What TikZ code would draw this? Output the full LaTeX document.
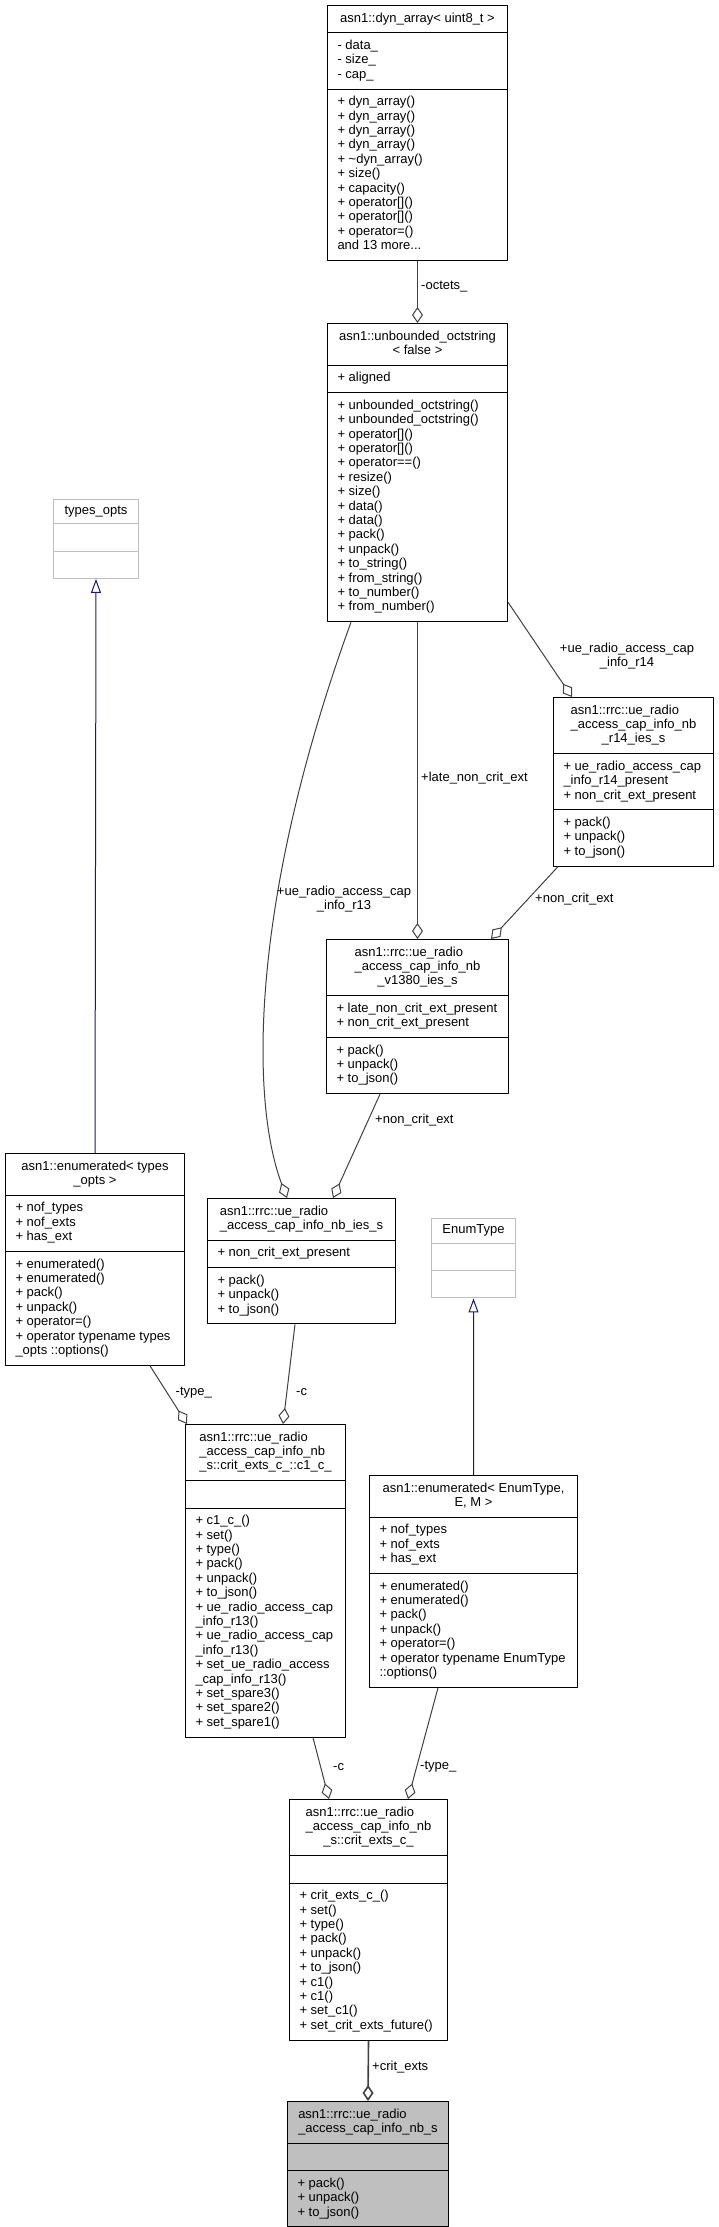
\documentclass[tikz,border=0pt]{standalone}
\usepackage{fontspec}
\setmainfont{Liberation Sans}
\usepackage{tikz}
\usetikzlibrary{arrows.meta,shapes.multipart}
\definecolor{edgegray}{HTML}{404040}
\definecolor{boxgray}{HTML}{BFBFBF}
\definecolor{inhblue}{HTML}{191970}
\newcommand{\memb}[1]{\begin{tabular}{@{}l@{}}#1\end{tabular}}
\newcommand{\lastc}[1]{\multicolumn{1}{@{}c@{}}{#1}}

\begin{document}
\begin{tikzpicture}[line join=bevel,
  font=\fontsize{13bp}{14.4bp}\selectfont,
  cls/.style={draw=black, line width=1bp, fill=white, rectangle split, rectangle split parts=3,
    rectangle split part align={center,left,left}, inner xsep=10bp, inner ysep=6bp, anchor=north west},
  extcls/.style={cls, draw=boxgray},
  agg/.style={draw=edgegray, line width=1bp, -{Diamond[open,length=16bp,width=11bp]}},
  inh/.style={draw=inhblue, line width=1bp, -{Triangle[open,length=14bp,width=10bp]}},
  lbl/.style={inner sep=0pt, align=center}]
%%
\useasboundingbox (0bp,0bp) rectangle (719bp,-2227bp);
\node (dyn) at (327bp,-5bp) [cls, minimum width=180bp] {\memb{asn1::dyn\_array< uint8\_t >}
  \nodepart{two}\memb{- data\_\\- size\_\\- cap\_}
  \nodepart{three}\memb{+ dyn\_array()\\+ dyn\_array()\\+ dyn\_array()\\+ dyn\_array()\\+ \textasciitilde dyn\_array()\\+ size()\\+ capacity()\\+ operator[]()\\+ operator[]()\\+ operator=()\\and 13 more...}};
  \node (oct) at (327bp,-323bp) [cls, minimum width=180bp] {\memb{asn1::unbounded\_octstring\\\lastc{< false >}}
  \nodepart{two}\memb{+ aligned}
  \nodepart{three}\memb{+ unbounded\_octstring()\\+ unbounded\_octstring()\\+ operator[]()\\+ operator[]()\\+ operator==()\\+ resize()\\+ size()\\+ data()\\+ data()\\+ pack()\\+ unpack()\\+ to\_string()\\+ from\_string()\\+ to\_number()\\+ from\_number()}};
  \node (r14) at (553bp,-697bp) [cls, minimum width=160bp] {\memb{asn1::rrc::ue\_radio\\\_access\_cap\_info\_nb\\\lastc{\_r14\_ies\_s}}
  \nodepart{two}\memb{+ ue\_radio\_access\_cap\\\_info\_r14\_present\\+ non\_crit\_ext\_present}
  \nodepart{three}\memb{+ pack()\\+ unpack()\\+ to\_json()}};
  \node (v1380) at (326bp,-939bp) [cls, minimum width=182bp] {\memb{asn1::rrc::ue\_radio\\\_access\_cap\_info\_nb\\\lastc{\_v1380\_ies\_s}}
  \nodepart{two}\memb{+ late\_non\_crit\_ext\_present\\+ non\_crit\_ext\_present}
  \nodepart{three}\memb{+ pack()\\+ unpack()\\+ to\_json()}};
  \node (types) at (53bp,-499bp) [extcls, minimum width=85bp] {types\_opts
  \nodepart{two}\strut
  \nodepart{three}\strut};
  \node (enumT) at (5bp,-1153bp) [cls, minimum width=179bp] {\memb{asn1::enumerated< types\\\lastc{\_opts >}}
  \nodepart{two}\memb{+ nof\_types\\+ nof\_exts\\+ has\_ext}
  \nodepart{three}\memb{+ enumerated()\\+ enumerated()\\+ pack()\\+ unpack()\\+ operator=()\\+ operator typename types\\\_opts ::options()}};
  \node (nbies) at (207bp,-1198bp) [cls, minimum width=188bp] {\memb{asn1::rrc::ue\_radio\\\lastc{\_access\_cap\_info\_nb\_ies\_s}}
  \nodepart{two}\memb{+ non\_crit\_ext\_present}
  \nodepart{three}\memb{+ pack()\\+ unpack()\\+ to\_json()}};
  \node (c1) at (185bp,-1424bp) [cls, minimum width=160bp] {\memb{asn1::rrc::ue\_radio\\\_access\_cap\_info\_nb\\\lastc{\_s::crit\_exts\_c\_::c1\_c\_}}
  \nodepart{two}\strut
  \nodepart{three}\memb{+ c1\_c\_()\\+ set()\\+ type()\\+ pack()\\+ unpack()\\+ to\_json()\\+ ue\_radio\_access\_cap\\\_info\_r13()\\+ ue\_radio\_access\_cap\\\_info\_r13()\\+ set\_ue\_radio\_access\\\_cap\_info\_r13()\\+ set\_spare3()\\+ set\_spare2()\\+ set\_spare1()}};
  \node (enumtype) at (431bp,-1218bp) [extcls, minimum width=84bp] {EnumType
  \nodepart{two}\strut
  \nodepart{three}\strut};
  \node (enumE) at (369bp,-1475bp) [cls, minimum width=208bp] {\memb{asn1::enumerated< EnumType,\\\lastc{E, M >}}
  \nodepart{two}\memb{+ nof\_types\\+ nof\_exts\\+ has\_ext}
  \nodepart{three}\memb{+ enumerated()\\+ enumerated()\\+ pack()\\+ unpack()\\+ operator=()\\+ operator typename EnumType\\::options()}};
  \node (crit) at (289bp,-1799bp) [cls, minimum width=158bp] {\memb{asn1::rrc::ue\_radio\\\_access\_cap\_info\_nb\\\lastc{\_s::crit\_exts\_c\_}}
  \nodepart{two}\strut
  \nodepart{three}\memb{+ crit\_exts\_c\_()\\+ set()\\+ type()\\+ pack()\\+ unpack()\\+ to\_json()\\+ c1()\\+ c1()\\+ set\_c1()\\+ set\_crit\_exts\_future()}};
  \node (main) at (287bp,-2101bp) [cls, fill=boxgray, minimum width=161bp] {\memb{asn1::rrc::ue\_radio\\\lastc{\_access\_cap\_info\_nb\_s}}
  \nodepart{two}\strut
  \nodepart{three}\memb{+ pack()\\+ unpack()\\+ to\_json()}};
%
  \draw [agg] (dyn.south) -- (oct.north);
  \node (l_octets) at (421bp,-287bp) [lbl, anchor=west] {-octets\_};
  \draw [agg] (oct.south) -- (v1380.north);
  \node (l_late) at (421bp,-778bp) [lbl, anchor=west] {+late\_non\_crit\_ext};
  \draw [agg] ([yshift=20bp]oct.south east) -- ([xshift=19bp]r14.north west);
  \node (l_r14) at (627bp,-656bp) [lbl] {+ue\_radio\_access\_cap\\\_info\_r14};
  \draw [agg] ([xshift=5bp]r14.south west) -- ([xshift=-18bp]v1380.north east);
  \node (l_nce1) at (535bp,-899bp) [lbl, anchor=west] {+non\_crit\_ext};
  \draw [agg] ([xshift=24bp]oct.south west) ..controls (250bp,-900bp) and (250bp,-1100bp) .. ([xshift=80bp]nbies.north west);
  \node (l_r13) at (344bp,-899bp) [lbl] {+ue\_radio\_access\_cap\\\_info\_r13};
  \draw [agg] ([xshift=54bp]v1380.south west) -- ([xshift=126bp]nbies.north west);
  \node (l_nce2) at (375bp,-1120bp) [lbl, anchor=west] {+non\_crit\_ext};
  \draw [agg] ([xshift=88bp]nbies.south west) -- ([xshift=98bp]c1.north west);
  \node (l_c1) at (296bp,-1392bp) [lbl, anchor=west] {-c};
  \draw [agg] ([xshift=-35bp]enumT.south east) -- ([xshift=2bp]c1.north west);
  \node (l_type1) at (212bp,-1393bp) [lbl, anchor=east] {-type\_};
  \draw [inh] (enumT.north) -- (types.south);
  \draw [inh] (enumE.north) -- (enumtype.south);
  \draw [agg] ([xshift=128bp]c1.south west) -- ([xshift=40bp]crit.north west);
  \node (l_c2) at (333bp,-1767bp) [lbl, anchor=west] {-c};
  \draw [agg] ([xshift=69bp]enumE.south west) -- ([xshift=-40bp]crit.north east);
  \node (l_type2) at (420bp,-1767bp) [lbl, anchor=west] {-type\_};
  \draw [agg, line width=1.6bp] (crit.south) -- (main.north);
  \node (l_crit) at (372bp,-2067bp) [lbl, anchor=west] {+crit\_exts};
%
\end{tikzpicture}
\end{document}
